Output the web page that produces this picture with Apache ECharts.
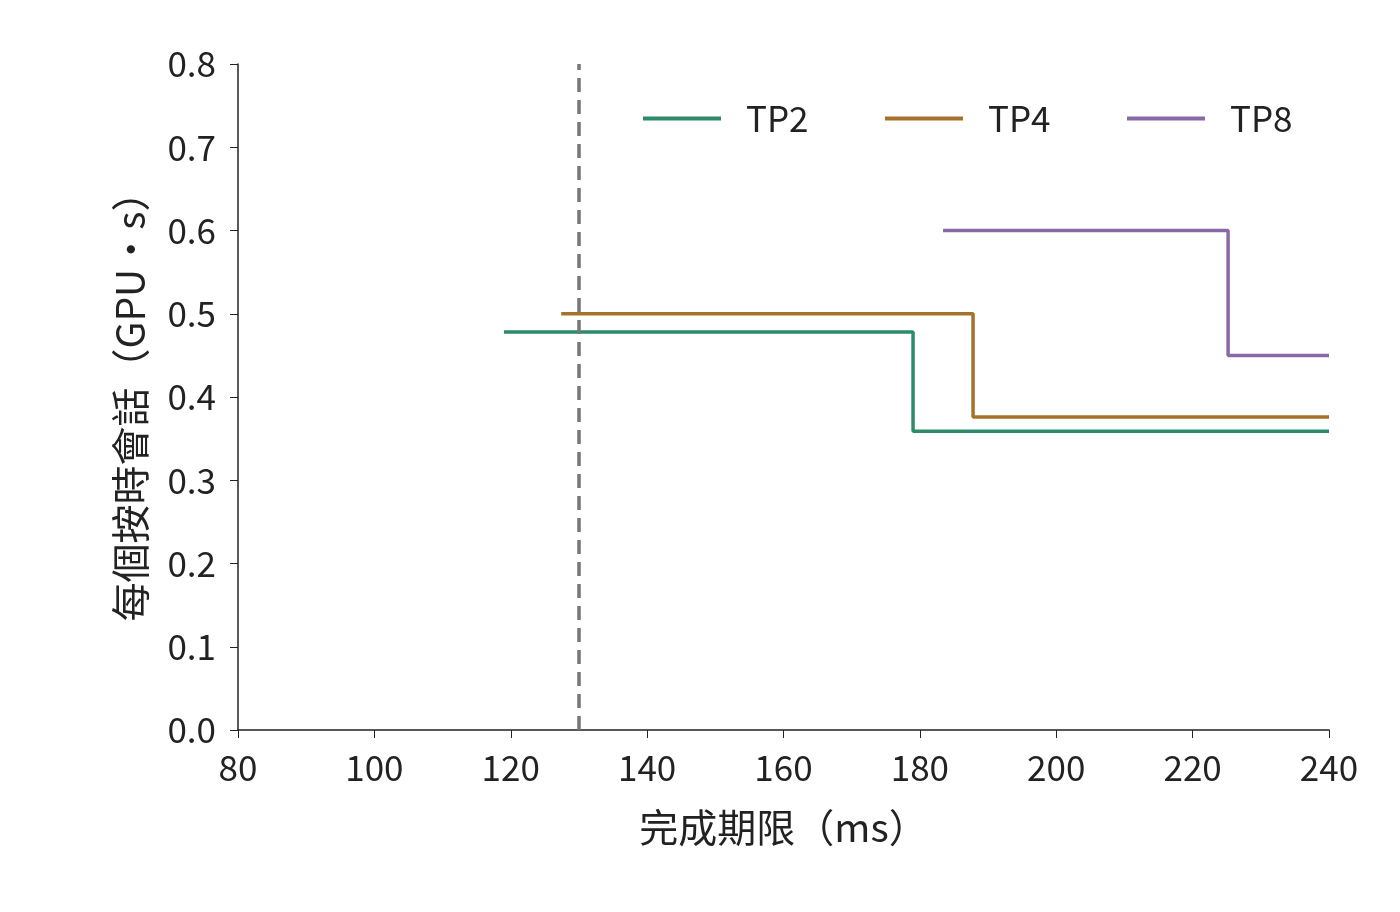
<!DOCTYPE html>
<html><head><meta charset="utf-8">
<script src="https://cdn.jsdelivr.net/npm/echarts@6/dist/echarts.min.js"></script>
<style>html,body{margin:0;background:#fff}#c{width:1400px;height:912px}</style>
</head><body><div id="c"></div>
<script>
const seriesNames = ['TP2','TP4','TP8'];
const tp2 = [[119,0.478],[179,0.478],[179,0.359],[240,0.359]];
const tp4 = [[127.4,0.5],[187.8,0.5],[187.8,0.376],[240,0.376]];
const tp8 = [[183.4,0.6],[225.2,0.6],[225.2,0.45],[240,0.45]];
const deadline = 130;
const colors = ['#2e8b6a','#a6722a','#8a68a6'];
const font = '"Noto Sans CJK TC","Noto Sans",sans-serif';
const chart = echarts.init(document.getElementById('c'));
const data = [tp2,tp4,tp8];
const legendLeft = [638,880,1122];
chart.setOption({
  animation:false,
  textStyle:{fontFamily:font},
  grid:{left:238,right:71,top:64,bottom:182},
  legend: seriesNames.map((n,i)=>({data:[n],left:legendLeft[i],top:96,itemWidth:78,itemHeight:4,itemGap:0,
    textStyle:{fontSize:35,color:'#222',fontFamily:font,padding:[0,0,0,20]},icon:'rect'})),
  xAxis:{type:'value',min:80,max:240,interval:20,name:'完成期限（ms）',nameLocation:'middle',nameGap:78,
    nameTextStyle:{fontSize:39,color:'#222'},
    axisLine:{lineStyle:{color:'#222',width:1.5}},axisTick:{length:8,lineStyle:{color:'#222'}},
    axisLabel:{fontSize:35,color:'#222',margin:20},splitLine:{show:false}},
  yAxis:{type:'value',min:0,max:0.8,interval:0.1,name:'每個按時會話（GPU・s）',nameLocation:'middle',nameGap:88,
    nameTextStyle:{fontSize:39,color:'#222'},
    axisLine:{show:true,lineStyle:{color:'#222',width:1.5}},axisTick:{show:true,length:8,lineStyle:{color:'#222'}},
    axisLabel:{fontSize:35,color:'#222',margin:22,formatter:v=>v.toFixed(1)},splitLine:{show:false}},
  series: seriesNames.map((n,i)=>({name:n,type:'line',data:data[i],symbol:'none',
    lineStyle:{color:colors[i],width:3.5},itemStyle:{color:colors[i]},
    markLine: i===0?{silent:true,symbol:'none',label:{show:false},
      lineStyle:{color:'#777',type:[14,8],width:3.5},data:[{xAxis:deadline}]}:undefined}))
});
</script></body></html>
